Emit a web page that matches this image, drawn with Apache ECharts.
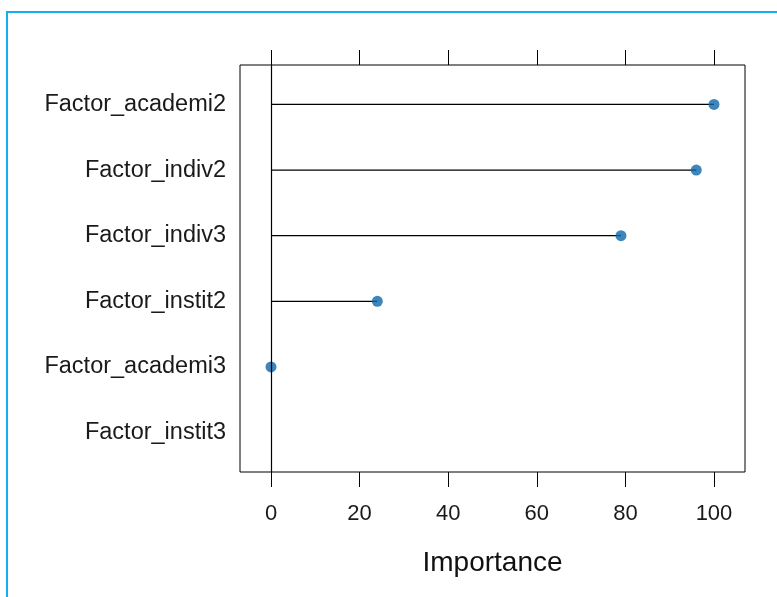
<!DOCTYPE html>
<html>
<head>
<meta charset="utf-8">
<script src="https://cdn.jsdelivr.net/npm/echarts@6/dist/echarts.min.js"></script>
<style>
  html, body { margin: 0; padding: 0; background: #fff; }
  #chart { width: 777px; height: 597px; }
</style>
</head>
<body>
<div id="chart"></div>
<script>
// data (top to bottom)
var factors = ['Factor_academi2', 'Factor_indiv2', 'Factor_indiv3', 'Factor_instit2', 'Factor_academi3', 'Factor_instit3'];
var importance = [100, 96, 79, 24, 0, null];
var xTicks = [0, 20, 40, 60, 80, 100];

var rows = [];
for (var i = 0; i < factors.length; i++) {
    if (importance[i] !== null) rows.push([importance[i], i + 1]);
}

var chart = echarts.init(document.getElementById('chart'));

var option = {
    animation: false,
    backgroundColor: '#fff',
    graphic: [{
        type: 'rect',
        shape: { x: 7, y: 12, width: 820, height: 700 },
        style: { fill: 'none', stroke: '#14aff0', lineWidth: 2 },
        silent: true
    }],
    grid: {
        left: 240, top: 65, width: 505, height: 407,
        show: true, borderColor: '#000', borderWidth: 1, backgroundColor: '#fff'
    },
    xAxis: [
        {
            type: 'value', position: 'bottom', min: -7, max: 107,
            name: 'Importance', nameLocation: 'middle', nameGap: 77,
            nameTextStyle: { fontFamily: 'Liberation Sans, Arial', fontSize: 28, color: '#111' },
            axisLine: { show: false },
            axisTick: { show: true, length: 15, customValues: xTicks, lineStyle: { color: '#000' } },
            axisLabel: {
                customValues: xTicks, margin: 31,
                fontFamily: 'Liberation Sans, Arial', fontSize: 22, color: '#1a1a1a'
            },
            splitLine: { show: false }
        },
        {
            type: 'value', position: 'top', min: -7, max: 107,
            axisLine: { show: false },
            axisTick: { show: true, length: 15, customValues: xTicks, lineStyle: { color: '#000' } },
            axisLabel: { show: false },
            splitLine: { show: false }
        }
    ],
    yAxis: {
        type: 'value', min: 0.4, max: 6.6, inverse: true,
        axisLine: { show: false },
        axisTick: { show: false },
        splitLine: { show: false },
        axisLabel: {
            customValues: [1, 2, 3, 4, 5, 6], margin: 14,
            fontFamily: 'Liberation Sans, Arial', fontSize: 23.5, color: '#1a1a1a',
            formatter: function (v) { return factors[Math.round(v) - 1]; }
        }
    },
    series: [
        {
            // lollipop stems
            type: 'custom',
            data: rows,
            renderItem: function (params, api) {
                var a = api.coord([0, api.value(1)]);
                var b = api.coord([api.value(0), api.value(1)]);
                return {
                    type: 'line',
                    shape: { x1: a[0], y1: a[1], x2: b[0], y2: b[1] },
                    style: { stroke: '#000', lineWidth: 1.2 }
                };
            },
            markLine: {
                silent: true, symbol: 'none', label: { show: false },
                lineStyle: { color: '#000', width: 1.2, type: 'solid' },
                data: [{ xAxis: 0 }]
            },
            z: 2
        },
        {
            type: 'scatter',
            data: rows,
            symbol: 'circle', symbolSize: 11,
            itemStyle: { color: '#0c66aa' },
            z: 3
        }
    ]
};

chart.setOption(option);
</script>
</body>
</html>
